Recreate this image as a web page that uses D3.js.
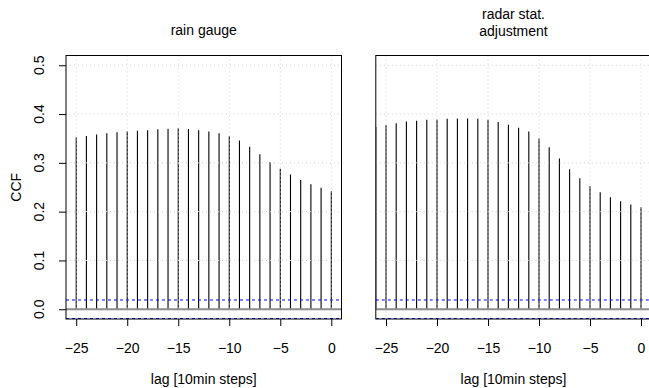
<!DOCTYPE html>
<html>
<head>
<meta charset="utf-8">
<script src="https://cdn.jsdelivr.net/npm/d3@7"></script>
<style>
  html, body { margin: 0; padding: 0; background: #fff; }
  svg { display: block; }
  text { font-family: "Liberation Sans", Arial, Helvetica, sans-serif; fill: #000; }
</style>
</head>
<body>
<svg id="chart" width="649" height="388"></svg>
<script>
// ---- data ----
const lagsGauge = [-25,-24,-23,-22,-21,-20,-19,-18,-17,-16,-15,-14,-13,-12,-11,-10,-9,-8,-7,-6,-5,-4,-3,-2,-1,0];
const ccfGauge  = [0.352,0.355,0.358,0.3605,0.3626,0.3646,0.366,0.3667,0.3687,0.370,0.3707,0.3694,0.3667,0.364,0.3605,0.3544,0.346,0.333,0.3176,0.302,0.288,0.276,0.265,0.256,0.249,0.242];
const lagsRadar = [-26,-25,-24,-23,-22,-21,-20,-19,-18,-17,-16,-15,-14,-13,-12,-11,-10,-9,-8,-7,-6,-5,-4,-3,-2,-1,0];
const ccfRadar  = [0.3734,0.3769,0.381,0.3845,0.3865,0.3885,0.389,0.3906,0.391,0.391,0.3906,0.3885,0.3837,0.378,0.372,0.364,0.350,0.332,0.309,0.287,0.2685,0.252,0.240,0.2297,0.2215,0.2147,0.2092];
const xTicks = [-25,-20,-15,-10,-5,0];
const yTicks = [0.0,0.1,0.2,0.3,0.4,0.5];
const yTickLabels = ["0.0","0.1","0.2","0.3","0.4","0.5"];
const confLimit = 0.019;
const titles = [["rain gauge"], ["radar stat.", "adjustment"]];
const xLabel = "lag [10min steps]";
const yLabel = "CCF";

// ---- layout ----
(function () {
const svg = d3.select("#chart");
const FS = 14;
const plotTop = 55.5, plotBottom = 319;
const y = d3.scaleLinear().domain([-0.02, 0.52]).range([plotBottom, plotTop]);

const panels = [
  {lags: lagsGauge, vals: ccfGauge, left: 66, right: 341.5, title: titles[0], yaxis: true},
  {lags: lagsRadar, vals: ccfRadar, left: 375.8, right: 651.2, title: titles[1], yaxis: false}
];

panels.forEach((p, pi) => {
  const x = d3.scaleLinear().domain([-26, 1]).range([p.left, p.right]);
  const g = svg.append("g");
  const clipId = "clip" + pi;
  svg.append("clipPath").attr("id", clipId).append("rect")
    .attr("x", p.left).attr("y", plotTop).attr("width", p.right - p.left).attr("height", plotBottom - plotTop);
  const inner = g.append("g").attr("clip-path", `url(#${clipId})`);

  // bars
  inner.selectAll("line.bar").data(p.lags.map((l, i) => ({l, v: p.vals[i]})))
    .join("line").attr("class", "bar")
    .attr("x1", d => x(d.l)).attr("x2", d => x(d.l))
    .attr("y1", y(0)).attr("y2", d => y(d.v))
    .attr("stroke", "#000").attr("stroke-width", 1.1);

  // grid
  inner.selectAll("line.gx").data(xTicks).join("line").attr("class", "gx")
    .attr("x1", d => x(d)).attr("x2", d => x(d))
    .attr("y1", plotTop).attr("y2", plotBottom)
    .attr("stroke", "#d3d3d3").attr("stroke-width", 1).attr("stroke-dasharray", "1,3");
  inner.selectAll("line.gy").data(yTicks).join("line").attr("class", "gy")
    .attr("x1", p.left).attr("x2", p.right)
    .attr("y1", d => y(d)).attr("y2", d => y(d))
    .attr("stroke", "#d3d3d3").attr("stroke-width", 1).attr("stroke-dasharray", "1,3");

  // zero line
  inner.append("line")
    .attr("x1", p.left).attr("x2", p.right)
    .attr("y1", y(0)).attr("y2", y(0))
    .attr("stroke", "#8c8c8c").attr("stroke-width", 2);

  // confidence lines
  [confLimit, -confLimit].forEach(c => {
    inner.append("line")
      .attr("x1", p.left).attr("x2", p.right)
      .attr("y1", y(c)).attr("y2", y(c))
      .attr("stroke", "#0000ff").attr("stroke-width", 1).attr("stroke-dasharray", "3,3");
  });

  // box
  g.append("rect")
    .attr("x", p.left).attr("y", plotTop)
    .attr("width", p.right - p.left).attr("height", plotBottom - plotTop)
    .attr("fill", "none").attr("stroke", "#000").attr("stroke-width", 1);

  // x axis
  const xa = g.append("g").attr("transform", `translate(0,${plotBottom})`)
    .call(d3.axisBottom(x).tickValues(xTicks).tickSize(7).tickPadding(17)
      .tickFormat(d => d < 0 ? "\u2212" + Math.abs(d) : String(d)));
  xa.select(".domain").remove();
  xa.selectAll("line").attr("stroke", "#000");
  xa.selectAll("text").attr("font-size", FS).attr("font-family", "Liberation Sans, Arial, sans-serif").attr("fill", "#000");

  // x label
  g.append("text")
    .attr("x", (p.left + p.right) / 2).attr("y", 384)
    .attr("text-anchor", "middle").attr("font-size", FS).text(xLabel);

  // title
  if (p.title.length === 1) {
    g.append("text").attr("x", (p.left + p.right) / 2).attr("y", 35)
      .attr("text-anchor", "middle").attr("font-size", FS).text(p.title[0]);
  } else {
    p.title.forEach((t, i) => {
      g.append("text").attr("x", (p.left + p.right) / 2).attr("y", 19 + i * 16.5)
        .attr("text-anchor", "middle").attr("font-size", FS).text(t);
    });
  }

  // y axis
  if (p.yaxis) {
    const ya = g.append("g").attr("transform", `translate(${p.left},0)`)
      .call(d3.axisLeft(y).tickValues(yTicks).tickSize(7).tickFormat(""));
    ya.select(".domain").remove();
    ya.selectAll("line").attr("stroke", "#000");
    yTicks.forEach((t, i) => {
      g.append("text")
        .attr("transform", `translate(44,${y(t)}) rotate(-90)`)
        .attr("text-anchor", "middle").attr("font-size", FS).text(yTickLabels[i]);
    });
    g.append("text")
      .attr("transform", `translate(21,${(plotTop + plotBottom) / 2}) rotate(-90)`)
      .attr("text-anchor", "middle").attr("font-size", FS).text(yLabel);
  }
});
})();
</script>
</body>
</html>
